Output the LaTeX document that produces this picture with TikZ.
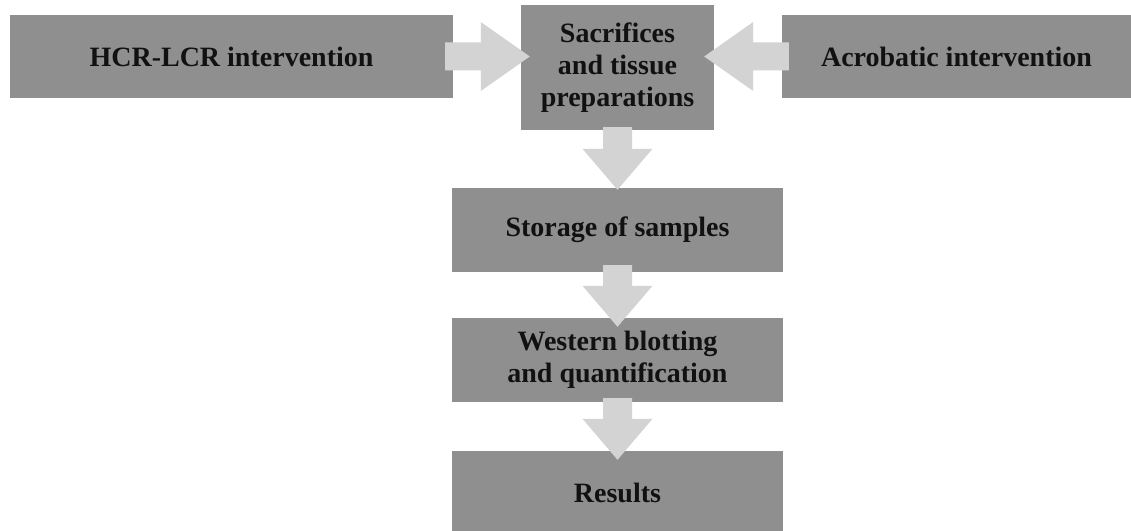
\documentclass[tikz,border=0pt]{standalone}
\usepackage{fontspec}
\setmainfont{Liberation Serif}
\usetikzlibrary{calc}
\definecolor{boxgray}{HTML}{8F8F8F}
\definecolor{arrgray}{HTML}{D3D3D3}
\definecolor{txt}{HTML}{111111}
\tikzset{
  stepbox/.style={fill=boxgray, draw=none, inner sep=0pt, align=center, text=txt,
    font=\fontsize{28}{32}\selectfont\bfseries},
  blockarrow/.style={fill=arrgray, draw=none}
}
\begin{document}
\begin{tikzpicture}[x=1pt,y=1pt]
\useasboundingbox (0,0) rectangle (1131,530);
% boxes
\node[stepbox, minimum width=443pt, minimum height=83pt] (hcr) at (231.5,473.5) {HCR-LCR intervention};
\node[stepbox, minimum width=193pt, minimum height=125pt] (sac) at (617.5,462.5) {Sacrifices\\and tissue\\preparations};
\node[stepbox, minimum width=349pt, minimum height=83pt] (acro) at (956.5,473.5) {Acrobatic intervention};
\node[stepbox, minimum width=331pt, minimum height=84pt] (stor) at (617.5,300) {Storage of samples};
\node[stepbox, minimum width=331pt, minimum height=84pt] (west) at (617.5,170) {Western blotting\\and quantification};
\node[stepbox, minimum width=331pt, minimum height=84pt] (res) at (617.5,37) {Results};
% horizontal block arrows
\fill[blockarrow] let \p1=($(hcr.east)+(-8,0)$), \p2=($(sac.west)+(9,0)$) in
  (\x1,\y1+14pt) -- (\x2-49pt,\y1+14pt) -- (\x2-49pt,\y1+34.5pt) -- (\x2,\y1)
  -- (\x2-49pt,\y1-34.5pt) -- (\x2-49pt,\y1-14pt) -- (\x1,\y1-14pt) -- cycle;
\fill[blockarrow] let \p1=($(acro.west)+(7,0)$), \p2=($(sac.east)+(-10,0)$) in
  (\x1,\y1+14pt) -- (\x2+49pt,\y1+14pt) -- (\x2+49pt,\y1+34.5pt) -- (\x2,\y1)
  -- (\x2+49pt,\y1-34.5pt) -- (\x2+49pt,\y1-14pt) -- (\x1,\y1-14pt) -- cycle;
% vertical block arrows
\fill[blockarrow] let \p1=($(sac.south)+(0,3)$), \p2=($(stor.north)+(0,-2)$) in
  (\x1-14.5pt,\y1) -- (\x1-14.5pt,\y2+41pt) -- (\x1-35pt,\y2+41pt) -- (\x1,\y2)
  -- (\x1+35pt,\y2+41pt) -- (\x1+14.5pt,\y2+41pt) -- (\x1+14.5pt,\y1) -- cycle;
\fill[blockarrow] let \p1=($(stor.south)+(0,7)$), \p2=($(west.north)+(0,-9)$) in
  (\x1-14.5pt,\y1) -- (\x1-14.5pt,\y2+41pt) -- (\x1-35pt,\y2+41pt) -- (\x1,\y2)
  -- (\x1+35pt,\y2+41pt) -- (\x1+14.5pt,\y2+41pt) -- (\x1+14.5pt,\y1) -- cycle;
\fill[blockarrow] let \p1=($(west.south)+(0,4)$), \p2=($(res.north)+(0,-9)$) in
  (\x1-14.5pt,\y1) -- (\x1-14.5pt,\y2+41pt) -- (\x1-35pt,\y2+41pt) -- (\x1,\y2)
  -- (\x1+35pt,\y2+41pt) -- (\x1+14.5pt,\y2+41pt) -- (\x1+14.5pt,\y1) -- cycle;
\end{tikzpicture}
\end{document}
